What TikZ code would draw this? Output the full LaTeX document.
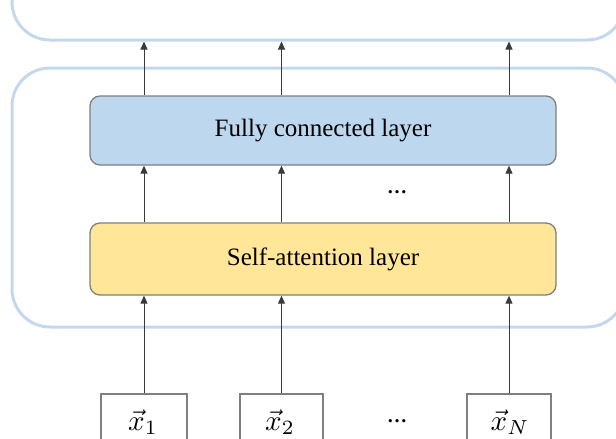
\documentclass[tikz,border=0pt]{standalone}
\usepackage{fontspec}
\setmainfont{Liberation Serif}
\newfontfamily\layerfont{Liberation Serif}
\usetikzlibrary{arrows.meta}
\definecolor{framec}{HTML}{C3D8EE}
\definecolor{fcfill}{HTML}{BDD7EE}
\definecolor{safill}{HTML}{FFE699}
\definecolor{edgec}{HTML}{7F7F7F}
\definecolor{arrowc}{HTML}{3A3A3A}
\newcommand{\invec}[1]{\scalebox{2.9}{$\vec{x}_{#1}$}}
\begin{document}
\begin{tikzpicture}[x=1pt,y=-1pt,
  frame/.style={draw=framec, line width=3pt, rounded corners=38pt, inner sep=0pt},
  layer/.style={draw=edgec, line width=1.3pt, rounded corners=10pt, inner sep=0pt,
    minimum width=466pt, font=\layerfont\fontsize{25}{30}\selectfont},
  inbox/.style={draw=edgec, line width=1.2pt, inner sep=0pt, minimum height=56pt},
  conn/.style={draw=arrowc, line width=0.9pt, -{Triangle[length=8pt,width=7pt]}},
  dotsnode/.style={font=\layerfont\bfseries\fontsize{20}{24}\selectfont, inner sep=0pt}]
\useasboundingbox (0,0) rectangle (616,439);
\clip (0,0) rectangle (616,439);

% outer frames
\node[frame, minimum width=613pt, minimum height=100pt] (out) at (318.5,-10) {};
\node[frame, minimum width=613pt, minimum height=259pt] (block) at (318.5,197.5) {};

% layers
\node[layer, fill=fcfill, minimum height=69pt] (fc) at (323,130.5) {Fully connected layer};
\node[layer, fill=safill, minimum height=72pt] (sa) at (323,259) {Self-attention layer};

% input vectors
\node[inbox, minimum width=86pt] (in1) at (144,422) {};
\node[inbox, minimum width=83pt] (in2) at (281.5,422) {};
\node[inbox, minimum width=84pt] (inN) at (509,422) {};
\node[inner sep=0pt] (l1) at (143,422) {\invec{1}};
\node[inner sep=0pt] (l2) at (280,422) {\invec{2}};
\node[inner sep=0pt] (lN) at (510,422) {\invec{N}};
\node[dotsnode] (dotsin) at (397,421) {…};
\node[dotsnode] (dotsmid) at (397,192) {…};

% connections
\foreach \i in {in1,in2,inN}{
  \draw[conn] (\i.north) -- (\i.north |- sa.south);
  \draw[conn] (sa.north -| \i.north) -- (fc.south -| \i.north);
  \draw[conn] (fc.north -| \i.north) -- (out.south -| \i.north);
}
\end{tikzpicture}
\end{document}
